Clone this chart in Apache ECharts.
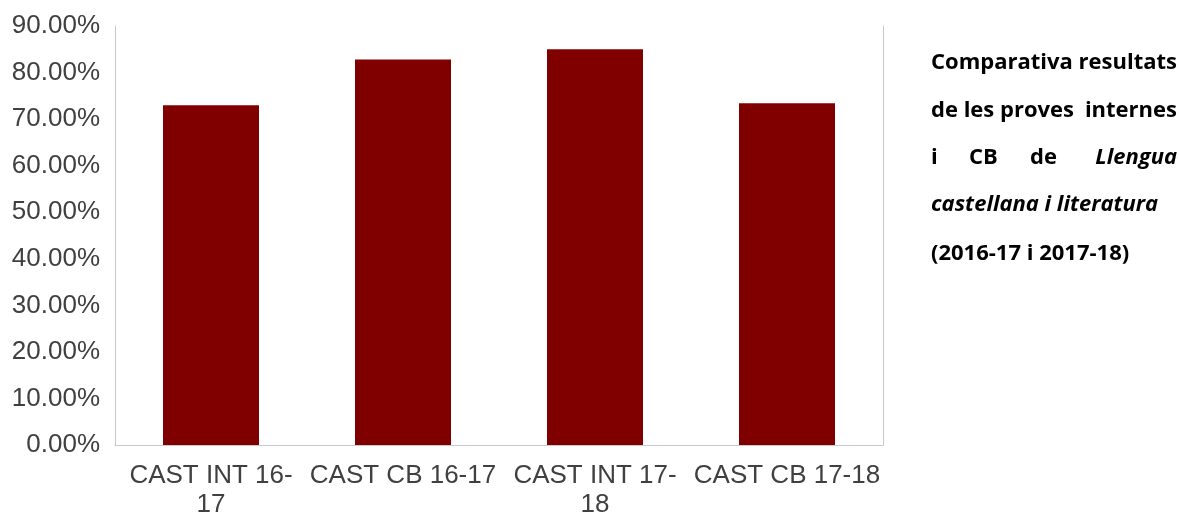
<!DOCTYPE html>
<html>
<head>
<meta charset="utf-8">
<script src="https://cdn.jsdelivr.net/npm/echarts@6/dist/echarts.min.js"></script>
<style>
  html, body { margin: 0; padding: 0; background: #fff; }
  #chart { width: 1179px; height: 514px; }
</style>
</head>
<body>
<div id="chart"></div>
<script>
// categories and values (percent)
const categories = ['CAST INT 16-\n17', 'CAST CB 16-17', 'CAST INT 17-\n18', 'CAST CB 17-18'];
const results = [73.0, 82.8, 85.0, 73.4];
const yTicks = { min: 0, max: 90, step: 10 };

const myChart = echarts.init(document.getElementById('chart'));

const labelColor = '#404040';
const borderColor = '#c8c8c8';
const boldText = { fontFamily: 'Open Sans', fontWeight: 'bold', fontSize: 22, fill: '#000' };

function txt(pos, text, extra) {
  return Object.assign({ type: 'text', style: Object.assign({ text: text }, boldText, extra || {}) }, pos);
}

const option = {
  animation: false,
  backgroundColor: '#fff',
  grid: { left: 115, right: 296, top: 26, bottom: 69, outerBoundsMode: 'none', containLabel: false },
  xAxis: [{
    type: 'category',
    data: categories,
    axisLine: { show: false },
    axisTick: { show: false },
    axisLabel: {
      interval: 0,
      margin: 16,
      color: labelColor,
      fontFamily: 'Liberation Sans',
      fontSize: 26,
      lineHeight: 29
    }
  }, {
    type: 'category',
    position: 'top',
    data: categories,
    axisLine: { show: true, lineStyle: { color: borderColor } },
    axisTick: { show: false },
    axisLabel: { show: false }
  }],
  yAxis: [{
    type: 'value',
    min: yTicks.min,
    max: yTicks.max,
    interval: yTicks.step,
    splitLine: { show: false },
    axisLine: { show: true, lineStyle: { color: borderColor } },
    axisLabel: {
      margin: 15,
      color: labelColor,
      fontFamily: 'Liberation Sans',
      fontSize: 26,
      formatter: v => v.toFixed(2) + '%'
    }
  }, {
    type: 'value',
    position: 'right',
    min: yTicks.min,
    max: yTicks.max,
    interval: yTicks.step,
    splitLine: { show: false },
    axisLine: { show: true, lineStyle: { color: borderColor } },
    axisLabel: { show: false },
    axisTick: { show: false }
  }],
  series: [{
    type: 'bar',
    data: results,
    barWidth: '50%',
    itemStyle: { color: '#800000' }
  }],
  graphic: [
    txt({ left: 931, top: 52 }, 'Comparativa'),
    txt({ right: 2, top: 52 }, 'resultats'),
    txt({ left: 931, top: 100 }, 'de les proves'),
    txt({ right: 2, top: 100 }, 'internes'),
    txt({ left: 931, top: 147 }, 'i'),
    txt({ left: 969, top: 147 }, 'CB'),
    txt({ left: 1030, top: 147 }, 'de'),
    txt({ right: 2, top: 147 }, 'Llengua', { fontStyle: 'italic' }),
    txt({ left: 931, top: 194 }, 'castellana i literatura', { fontStyle: 'italic' }),
    txt({ left: 931, top: 243 }, '(2016-17 i 2017-18)')
  ]
};

myChart.setOption(option);
</script>
</body>
</html>
